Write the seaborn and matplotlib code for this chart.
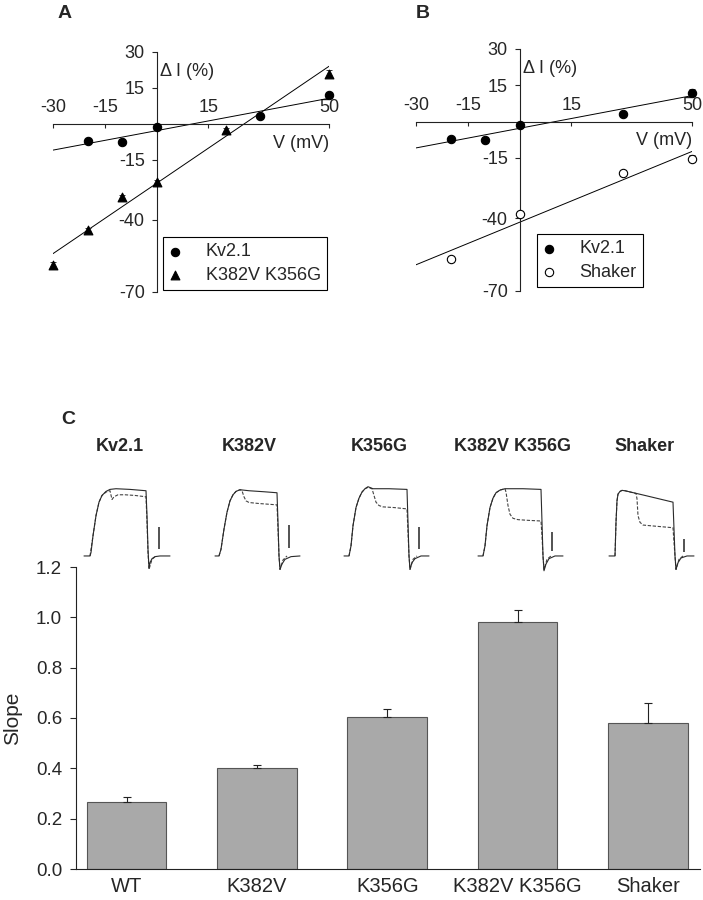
import numpy as np
import pandas as pd
import matplotlib
matplotlib.use("Agg")
import matplotlib.pyplot as plt
import seaborn as sns

sns.set_style("ticks")
plt.rcParams["font.family"] = ["Liberation Sans", "DejaVu Sans"]
plt.rcParams["axes.unicode_minus"] = False

# ---------------- Panel A / B data (Delta I % vs V mV) ----------------
v_kv = [-20, -10, 0, 30, 50]
di_kv = [-7.0, -7.5, -1.2, 3.3, 12.0]
err_kv = [0.8, 1.2, 0.6, 0.8, 1.3]

v_dm = [-30, -20, -10, 0, 20, 50]
di_dm = [-58.8, -44.0, -30.4, -24.0, -2.5, 21.0]
err_dm = [1.5, 0.8, 0.8, 0.8, 0.8, 1.5]

v_sh = [-20, 0, 30, 50]
di_sh = [-56.7, -38.0, -21.2, -15.4]
err_sh = [0.8, 1.0, 1.0, 1.5]

iv_xticks = [-30, -15, 15, 50]
iv_xticklabels = ["-30", "-15", "15", "50"]
iv_yticks = [-70, -40, -15, 15, 30]
iv_yticklabels = ["-70", "-40", "-15", "15", "30"]

# ---------------- Panel C bar data ----------------
constructs = ["WT", "K382V", "K356G", "K382V K356G", "Shaker"]
slope = [0.265, 0.401, 0.605, 0.980, 0.580]
slope_err = [0.021, 0.011, 0.031, 0.050, 0.081]
bar_yticks = [0.0, 0.2, 0.4, 0.6, 0.8, 1.0, 1.2]

# ---------------- Panel C current traces (time, normalized current) ----------------
trace_titles = ["Kv2.1", "K382V", "K356G", "K382V K356G", "Shaker"]

t_kv_solid = [-6, 0, 1, 3, 6, 9, 12, 16, 20, 26, 40, 56, 57, 58, 59, 60, 62, 65, 70, 80]
i_kv_solid = [0, 0, 0.05, 0.3, 0.6, 0.8, 0.9, 0.96, 0.99, 1.0, 0.99, 0.97, 0.6, 0.1, -0.18, -0.1, -0.04, -0.01, 0, 0]
t_kv_dash = [0, 3, 6, 9, 12, 16, 20, 22, 24, 28, 35, 45, 56, 57, 58, 59, 62, 66]
i_kv_dash = [0, 0.3, 0.6, 0.8, 0.9, 0.95, 0.97, 0.84, 0.88, 0.91, 0.91, 0.9, 0.88, 0.5, 0.05, -0.2, -0.05, 0]

t_v_solid = [-4, 0, 2, 5, 8, 11, 14, 17, 21, 30, 45, 58, 59, 60, 61, 63, 66, 72, 81]
i_v_solid = [0, 0, 0.1, 0.4, 0.65, 0.82, 0.91, 0.96, 0.985, 0.97, 0.955, 0.94, 0.5, 0.0, -0.2, -0.12, -0.05, -0.01, 0]
t_v_dash = [0, 2, 5, 8, 11, 14, 17, 21, 23, 25, 27, 30, 40, 58, 59, 60, 61, 64, 68]
i_v_dash = [0, 0.1, 0.4, 0.65, 0.82, 0.91, 0.96, 0.985, 0.97, 0.88, 0.82, 0.795, 0.78, 0.76, 0.4, 0.0, -0.2, -0.06, 0]

t_g_solid = [-5, 0, 2, 4, 7, 10, 13, 16, 19, 24, 40, 58, 59, 60, 61, 63, 66, 72, 80]
i_g_solid = [0, 0, 0.15, 0.45, 0.72, 0.86, 0.95, 1.0, 1.03, 1.0, 1.0, 0.99, 0.5, 0.0, -0.2, -0.1, -0.04, 0, 0]
t_g_dash = [0, 2, 4, 7, 10, 13, 16, 19, 23, 25, 27, 30, 34, 45, 58, 59, 60, 61, 64, 68]
i_g_dash = [0, 0.15, 0.45, 0.72, 0.86, 0.95, 1.0, 1.02, 1.0, 0.9, 0.8, 0.75, 0.73, 0.72, 0.70, 0.35, 0.0, -0.2, -0.05, 0]

t_vg_solid = [-5, 0, 2, 4, 7, 10, 13, 17, 22, 40, 58, 59, 60, 61, 63, 66, 72, 80]
i_vg_solid = [0, 0, 0.15, 0.45, 0.72, 0.86, 0.94, 0.98, 1.0, 1.0, 0.99, 0.5, 0.0, -0.22, -0.12, -0.04, 0, 0]
t_vg_dash = [0, 2, 4, 7, 10, 13, 17, 22, 23, 25, 27, 30, 35, 45, 58, 59, 60, 61, 64, 68]
i_vg_dash = [0, 0.15, 0.45, 0.72, 0.86, 0.94, 0.98, 1.0, 0.95, 0.75, 0.62, 0.56, 0.54, 0.53, 0.52, 0.3, 0.0, -0.2, -0.05, 0]

t_sh_solid = [-6, 0, 1, 2, 3, 5, 7, 10, 30, 58, 59, 60, 61, 63, 66, 72, 79]
i_sh_solid = [0, 0, 0.5, 0.82, 0.92, 0.96, 0.975, 0.97, 0.9, 0.8, 0.4, 0.0, -0.2, -0.1, -0.03, 0, 0]
t_sh_dash = [0, 1, 2, 3, 5, 7, 10, 21, 22, 23, 25, 28, 35, 58, 59, 60, 61, 64, 68]
i_sh_dash = [0, 0.5, 0.82, 0.92, 0.96, 0.975, 0.97, 0.93, 0.85, 0.6, 0.5, 0.46, 0.45, 0.42, 0.2, 0.0, -0.2, -0.05, 0]

scalebar_t = [69, 70, 70, 69, 69]
scalebar_lo = [0.10, 0.12, 0.10, 0.07, 0.06]
scalebar_hi = [0.43, 0.46, 0.43, 0.36, 0.25]

solid_traces = [(t_kv_solid, i_kv_solid), (t_v_solid, i_v_solid), (t_g_solid, i_g_solid),
                (t_vg_solid, i_vg_solid), (t_sh_solid, i_sh_solid)]
dash_traces = [(t_kv_dash, i_kv_dash), (t_v_dash, i_v_dash), (t_g_dash, i_g_dash),
               (t_vg_dash, i_vg_dash), (t_sh_dash, i_sh_dash)]

# ---------------- Figure ----------------
W, H = 703, 900
fig = plt.figure(figsize=(W / 100, H / 100), dpi=100)


def px_rect(x0, y0, x1, y1):
    return [x0 / W, 1 - y1 / H, (x1 - x0) / W, (y1 - y0) / H]


def style_iv(ax):
    ax.set_xlim(-30, 50)
    ax.set_ylim(-70, 30)
    for s in ["top", "right"]:
        ax.spines[s].set_visible(False)
    ax.spines["left"].set_position(("data", 0))
    ax.spines["bottom"].set_position(("data", 0))
    for s in ["left", "bottom"]:
        ax.spines[s].set_linewidth(0.8)
        ax.spines[s].set_color("#222222")
    ax.set_xticks(iv_xticks)
    ax.set_xticklabels(iv_xticklabels)
    ax.set_yticks(iv_yticks)
    ax.set_yticklabels(iv_yticklabels)
    ax.tick_params(axis="x", direction="out", length=3, width=0.8, pad=-21, labelsize=13)
    ax.tick_params(axis="y", direction="out", length=3.5, width=0.8, pad=5, labelsize=13)
    ax.set_xlabel("")
    ax.set_ylabel("")
    ax.text(50, -8, "V (mV)", ha="right", va="center", fontsize=13)
    ax.text(1, 22, "\u0394 I (%)", ha="left", va="center", fontsize=13)


def fit_line(ax, x, y):
    sns.regplot(x=x, y=y, ax=ax, scatter=False, ci=None, truncate=False,
                line_kws=dict(color="black", lw=0.7))


def pts(ax, x, y, e, marker, fill, label):
    ax.errorbar(x, y, yerr=e, fmt="none", ecolor="#333333", elinewidth=0.7,
                capsize=2.5, capthick=0.7, zorder=3, clip_on=False)
    sns.scatterplot(x=x, y=y, ax=ax, marker=marker, s=40 if marker == "^" else 36,
                    color=fill, edgecolor="black", linewidth=0.8, label=label, zorder=4,
                    clip_on=False)


def legend(ax, anchor):
    lg = ax.legend(loc="lower left", bbox_to_anchor=anchor, frameon=True, fancybox=False,
                   edgecolor="black", framealpha=1, fontsize=13, handlelength=0.6,
                   handletextpad=1.4, borderpad=0.35, labelspacing=0.35, borderaxespad=0)
    lg.get_frame().set_linewidth(0.8)
    lg.set_zorder(5)


# Panel A
axA = fig.add_axes(px_rect(53, 52, 329, 292))
axA.set_xlim(-30, 50)
fit_line(axA, v_kv, di_kv)
fit_line(axA, v_dm, di_dm)
pts(axA, v_kv, di_kv, err_kv, "o", "black", "Kv2.1")
pts(axA, v_dm, di_dm, err_dm, "^", "black", "K382V K356G")
style_iv(axA)
legend(axA, (0.399, 0.008))

# Panel B
axB = fig.add_axes(px_rect(416, 49, 692, 291))
axB.set_xlim(-30, 50)
fit_line(axB, v_kv, di_kv)
fit_line(axB, v_sh, di_sh)
pts(axB, v_kv, di_kv, err_kv, "o", "black", "Kv2.1")
pts(axB, v_sh, di_sh, err_sh, "o", "white", "Shaker")
style_iv(axB)
legend(axB, (0.438, 0.0165))

# Panel C bars
axC = fig.add_axes(px_rect(76, 567, 700, 869))
df_bar = pd.DataFrame({"construct": constructs, "slope": slope})
sns.barplot(data=df_bar, x="construct", y="slope", order=constructs, color="#a9a9a9",
            saturation=1, width=0.61, edgecolor="#555555", linewidth=0.8,
            errorbar=None, ax=axC)
axC.errorbar(np.arange(len(constructs)), slope, yerr=[np.zeros(len(slope)), slope_err],
             fmt="none", ecolor="#222222", elinewidth=0.8, capsize=3.2, capthick=0.8, zorder=3)
axC.set_xlim(-0.388, 4.40)
axC.set_ylim(0, 1.2)
axC.set_yticks(bar_yticks)
axC.set_yticklabels([f"{v:.1f}" for v in bar_yticks])
sns.despine(ax=axC)
for s in ["left", "bottom"]:
    axC.spines[s].set_linewidth(0.8)
    axC.spines[s].set_color("#222222")
axC.tick_params(axis="y", direction="out", length=4, width=0.8, pad=6, labelsize=13.5)
axC.tick_params(axis="x", length=0, pad=6, labelsize=14.5)
axC.set_xlabel("")
axC.set_ylabel("Slope", fontsize=15, labelpad=10)

# Panel C traces
trace_left_px = [82, 211, 341, 475, 607]
for k in range(len(trace_titles)):
    axT = fig.add_axes(px_rect(trace_left_px[k], 482, trace_left_px[k] + 93, 579.5))
    ts, cs = solid_traces[k]
    td, cd = dash_traces[k]
    sns.lineplot(x=td, y=cd, ax=axT, color="#444444", lw=0.8, linestyle=(0, (3, 1.5)),
                 sort=False, estimator=None)
    sns.lineplot(x=ts, y=cs, ax=axT, color="#2a2a2a", lw=0.8, sort=False, estimator=None)
    axT.vlines(scalebar_t[k], scalebar_lo[k], scalebar_hi[k], color="#444444", lw=1.3)
    axT.set_xlim(-8, 85)
    axT.set_ylim(-0.35, 1.1)
    axT.axis("off")
    axT.text(30, 1.1 + 35 / 67, trace_titles[k], ha="center", va="center",
             fontsize=13, fontweight="bold", clip_on=False)

# Panel letters
fig.text(65 / W, 1 - 13 / H, "A", fontsize=14, fontweight="bold", ha="center", va="center")
fig.text(423 / W, 1 - 13 / H, "B", fontsize=14, fontweight="bold", ha="center", va="center")
fig.text(68 / W, 1 - 420 / H, "C", fontsize=14, fontweight="bold", ha="center", va="center")

fig.savefig("out.png", dpi=100)
